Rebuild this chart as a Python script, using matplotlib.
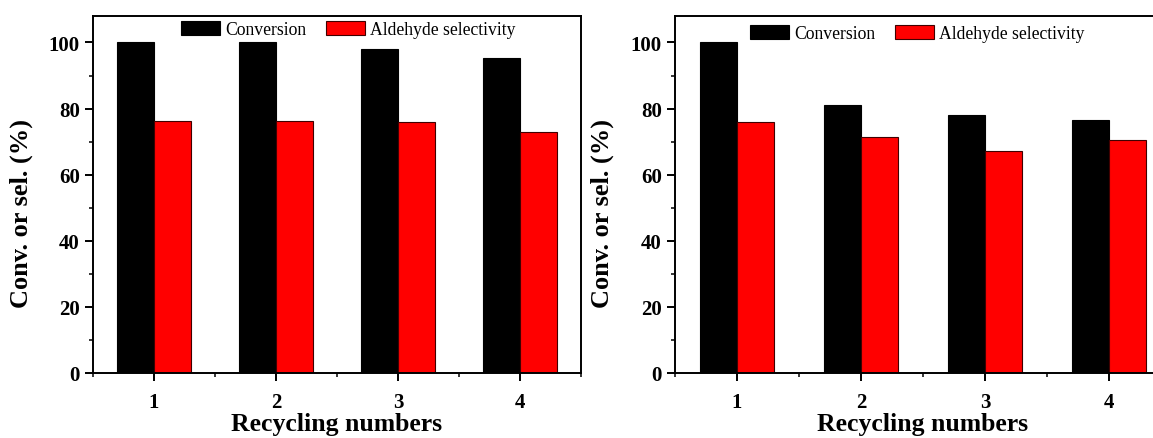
import numpy as np
import matplotlib
matplotlib.use('Agg')
import matplotlib.pyplot as plt
from matplotlib.ticker import MultipleLocator

# recycling test data
cycles = [1, 2, 3, 4]
conv_a = [100.0, 100.0, 98.1, 95.4]
sel_a = [76.2, 76.2, 76.0, 72.9]
conv_b = [100.0, 81.2, 78.2, 76.4]
sel_b = [76.0, 71.4, 67.1, 70.4]

plt.rcParams['font.family'] = ['Liberation Serif', 'DejaVu Serif']

fig = plt.figure(figsize=(11.53, 4.39), dpi=100)
ax1 = fig.add_axes([93 / 1153, 65 / 439, 488 / 1153, 357 / 439])
ax2 = fig.add_axes([675 / 1153, 65 / 439, 496 / 1153, 357 / 439])

w = 0.3
x = np.array(cycles)
panels = [(ax1, conv_a, sel_a, (0.523, 0.961)), (ax2, conv_b, sel_b, (0.489, 0.951))]
for ax, conv, sel, anchor in panels:
    ax.bar(x - w / 2, conv, w, color='black', edgecolor='black', lw=0.8,
           label='Conversion')
    ax.bar(x + w / 2, sel, w, color='#ff0000', edgecolor='#400000', lw=0.8,
           label='Aldehyde selectivity')
    ax.set_xlim(0.5, 4.5)
    ax.set_ylim(0, 108)
    ax.set_xticks(cycles)
    ax.xaxis.set_minor_locator(MultipleLocator(0.5))
    ax.yaxis.set_major_locator(MultipleLocator(20))
    ax.yaxis.set_minor_locator(MultipleLocator(10))
    ax.tick_params(which='major', direction='out', length=6, width=1.4,
                   labelsize=15, pad=3.5)
    ax.tick_params(which='minor', direction='out', length=3, width=1.1)
    ax.tick_params(axis='x', pad=8)
    for lab in ax.get_xticklabels() + ax.get_yticklabels():
        lab.set_fontweight('bold')
    for s in ax.spines.values():
        s.set_linewidth(1.4)
    ax.set_xlabel('Recycling numbers', fontsize=18.5, fontweight='bold', labelpad=0)
    ax.set_ylabel('Conv. or sel. (%)', fontsize=19, fontweight='bold')
    ax.yaxis.set_label_coords(-60 / 488, 0.45)
    ax.legend(loc='center', bbox_to_anchor=anchor, ncol=2, frameon=False,
              fontsize=12.7, handlelength=2.2, handleheight=0.85,
              handletextpad=0.3, columnspacing=1.1, borderpad=0)

fig.savefig('out.png', dpi=100)
